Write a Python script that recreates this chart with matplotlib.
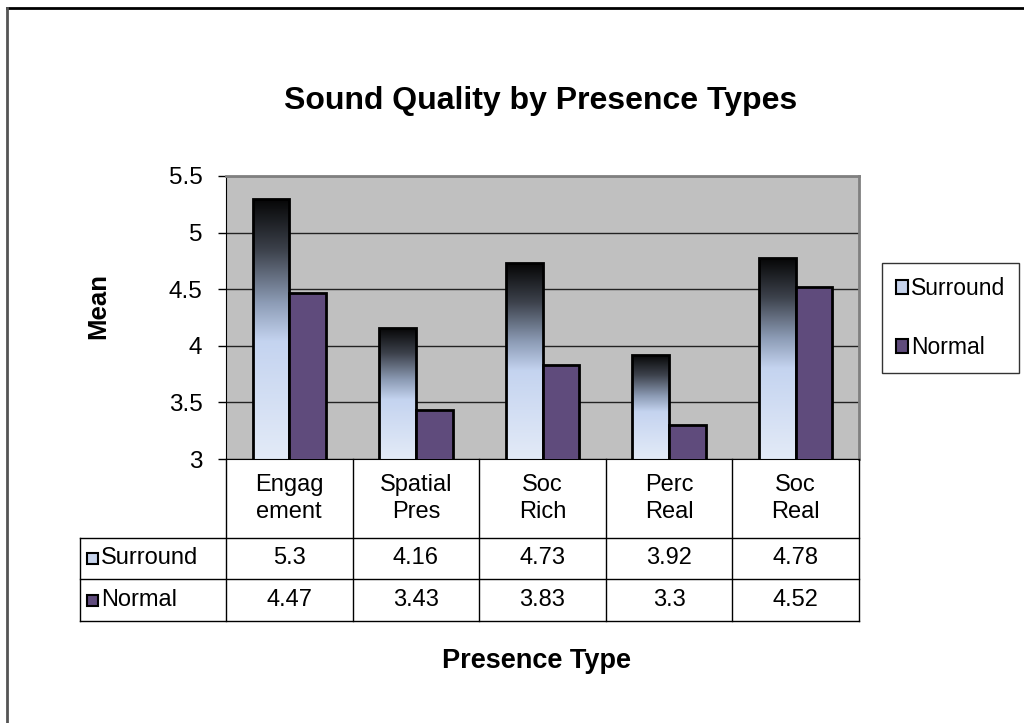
import matplotlib
matplotlib.use("Agg")
import matplotlib.pyplot as plt
import matplotlib.patches as mpatches
import matplotlib.transforms as mtrans
import numpy as np
from matplotlib.colors import LinearSegmentedColormap

categories = ["Engag\nement", "Spatial\nPres", "Soc\nRich", "Perc\nReal", "Soc\nReal"]
surround = [5.3, 4.16, 4.73, 3.92, 4.78]
normal = [4.47, 3.43, 3.83, 3.3, 4.52]
series_names = ["Surround", "Normal"]
yticks = [3, 3.5, 4, 4.5, 5, 5.5]

plt.rcParams['font.family'] = ['Liberation Sans', 'DejaVu Sans']

W, H = 1024, 723
fig = plt.figure(figsize=(W / 100, H / 100), dpi=100)
fig.patch.set_facecolor("white")

def fx(px):
    return px / W

def fy(py):
    return 1 - py / H

FS = 17

# plot area
ax = fig.add_axes([fx(226), fy(459), fx(859) - fx(226), fy(176) - fy(459)])
ax.set_facecolor("#c0c0c0")
ax.set_xlim(-0.5, len(categories) - 0.5)
ax.set_ylim(3, 5.5)
ax.set_yticks(yticks)
ax.set_yticklabels([f"{t:g}" for t in yticks], fontsize=FS + 0.5)
ax.tick_params(axis="y", length=6, width=1, pad=11, direction="out")
ax.set_xticks([])
ax.yaxis.grid(True, color="#222222", linewidth=1)
ax.set_axisbelow(True)
for s in ["top", "right"]:
    ax.spines[s].set_color("#808080")
    ax.spines[s].set_linewidth(2)
ax.spines["left"].set_color("black")
ax.spines["bottom"].set_color("black")

cmap = LinearSegmentedColormap.from_list("surr", [
    (0.0, (0.89, 0.92, 0.97)),
    (0.45, (0.77, 0.83, 0.94)),
    (0.6, (0.55, 0.61, 0.71)),
    (0.8, (0.24, 0.26, 0.30)),
    (1.0, (0.02, 0.02, 0.02)),
])
grad = np.linspace(0, 1, 256).reshape(-1, 1)

x = np.arange(len(categories))
bw = 0.29
bars = ax.bar(x - bw / 2, surround, bw, bottom=0, facecolor="none",
              edgecolor="black", linewidth=2, zorder=3)
for b in bars:
    x0, w, h = b.get_x(), b.get_width(), b.get_height()
    im = ax.imshow(grad, cmap=cmap, origin="lower", aspect="auto",
                   extent=(x0, x0 + w, 3, h), zorder=2)
    im.set_clip_path(b)
ax.set_xlim(-0.5, len(categories) - 0.5)
ax.set_ylim(3, 5.5)
ax.bar(x + bw / 2, normal, bw, color="#5f4b7c", edgecolor="black",
       linewidth=2, zorder=3)

# data table below the plot
tr = mtrans.blended_transform_factory(ax.transData, fig.transFigure)
y_top, y_r1, y_r2, y_bot = fy(459), fy(538), fy(579), fy(621)
lc = dict(color="black", linewidth=1, clip_on=False)
for b in np.arange(len(categories) + 1) - 0.5:
    fig.add_artist(plt.Line2D([b, b], [y_top, y_bot], transform=tr, **lc))
for yy in [y_r1, y_r2, y_bot]:
    fig.add_artist(plt.Line2D([fx(80), fx(859)], [yy, yy], **lc))
fig.add_artist(plt.Line2D([fx(80), fx(80)], [y_r1, y_bot], **lc))

for i, c in enumerate(categories):
    fig.text(i, (y_top + y_r1) / 2, c, transform=tr, ha="center", va="center",
             fontsize=FS, linespacing=1.3)
    fig.text(i, (y_r1 + y_r2) / 2, f"{surround[i]:g}", transform=tr,
             ha="center", va="center", fontsize=FS)
    fig.text(i, (y_r2 + y_bot) / 2, f"{normal[i]:g}", transform=tr,
             ha="center", va="center", fontsize=FS)

row_colors = ["#c6d3ec", "#5f4b7c"]
for yy0, yy1, name, col in [(y_r1, y_r2, series_names[0], row_colors[0]),
                            (y_r2, y_bot, series_names[1], row_colors[1])]:
    ym = (yy0 + yy1) / 2
    fig.add_artist(mpatches.Rectangle((fx(87), ym - 5.5 / H), 11 / W, 11 / H,
                                      facecolor=col, edgecolor="black", linewidth=1.5))
    fig.text(fx(101), ym, name, ha="left", va="center", fontsize=FS)

# legend
handles = [mpatches.Patch(facecolor=row_colors[0], edgecolor="black", linewidth=1.5),
           mpatches.Patch(facecolor=row_colors[1], edgecolor="black", linewidth=1.5)]
leg = fig.legend(handles, series_names, loc="center left",
                 bbox_to_anchor=(fx(882), fy(318)), fontsize=16.5,
                 handlelength=0.55, handleheight=0.55, handletextpad=0.1,
                 labelspacing=1.55, borderpad=0.6, fancybox=False, borderaxespad=0)
leg.get_frame().set_edgecolor("black")
leg.get_frame().set_linewidth(1)

# titles
fig.text(fx(541), fy(101), "Sound Quality by Presence Types", ha="center",
         va="center", fontsize=23, fontweight="bold")
fig.text(fx(98), fy(306), "Mean", ha="center", va="center", rotation=90,
         fontsize=18.5, fontweight="bold")
fig.text(fx(537), fy(661), "Presence Type", ha="center", va="center",
         fontsize=19.5, fontweight="bold")

# outer chart border (top and left visible)
fig.add_artist(plt.Line2D([fx(7), fx(1024)], [fy(8), fy(8)], color="black", linewidth=2))
fig.add_artist(plt.Line2D([fx(7), fx(7)], [fy(8), fy(723)], color="#555555", linewidth=2))

fig.savefig("out.png", dpi=100)
